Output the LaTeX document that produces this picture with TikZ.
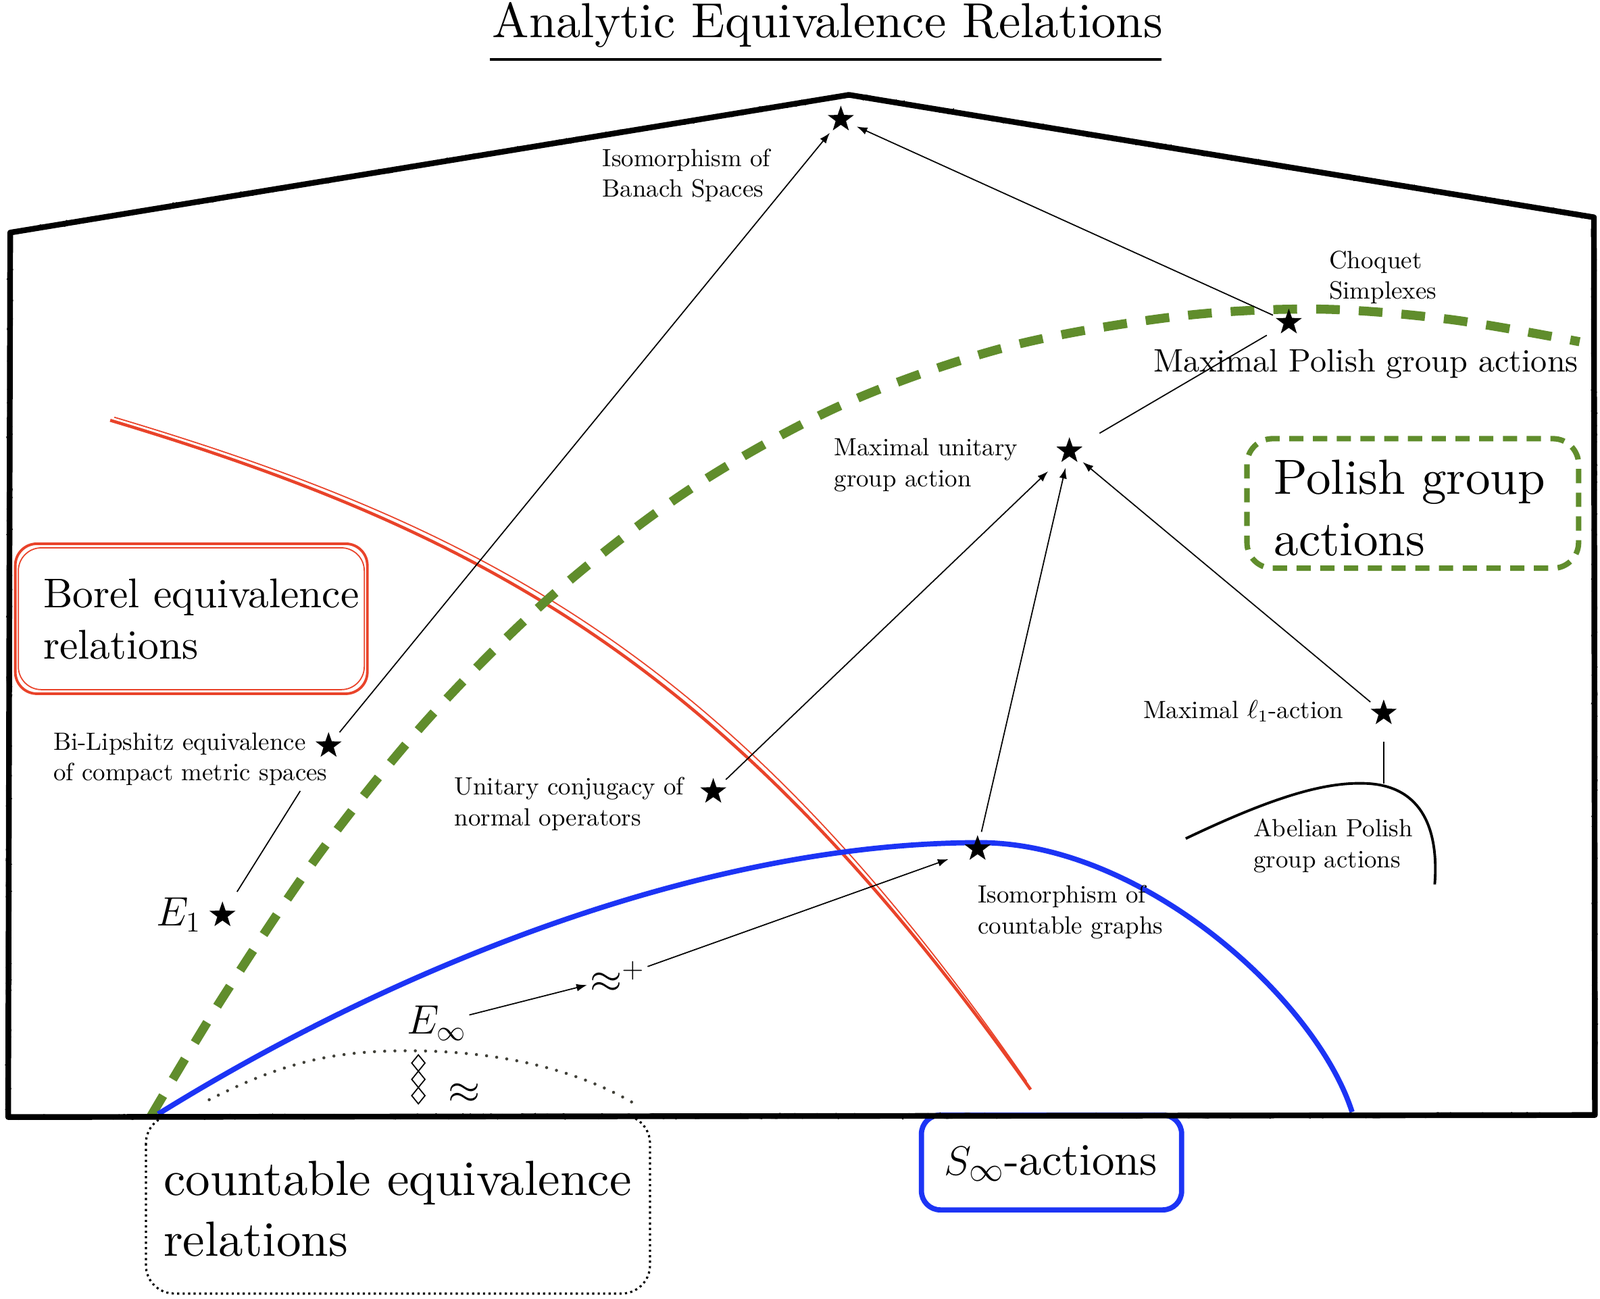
\documentclass[tikz,border=0pt]{standalone}
\usepackage{fontspec}
\setmainfont{lmroman10}[Extension=.otf, UprightFont=*-regular, ItalicFont=*-italic, BoldFont=*-bold, BoldItalicFont=*-bolditalic]
\usetikzlibrary{shapes.geometric,arrows.meta,decorations.pathmorphing}
\definecolor{grn}{RGB}{96,141,44}
\definecolor{rdd}{RGB}{233,67,42}
\definecolor{blu}{RGB}{28,52,245}
\definecolor{dgr}{RGB}{64,64,56}
\begin{document}
\begin{tikzpicture}[x=0.015102cm,y=-0.015102cm,
  small/.style={font=\fontsize{10.5}{12.9}\selectfont, align=left, inner sep=0pt, anchor=west},
  bigl/.style={font=\fontsize{20.8}{25.8}\selectfont, align=left, inner sep=0pt, anchor=west},
  starn/.style={star, star points=5, star point ratio=2.5, fill=black, draw=none, inner sep=0pt, minimum size=11.5pt},
  hub/.style={circle, inner sep=0pt, minimum size=0.5cm},
  arr/.style={line width=0.5pt, -{Latex[length=4.5pt,width=3.2pt]}},
  conn/.style={line width=0.5pt},
  house/.style={line width=2.4pt, line join=round},
  chalk/.style={line width=0.8pt, decorate, decoration={random steps, segment length=1.5pt, amplitude=0.9pt}},
  diapath/.style={line width=0.5pt, line join=miter},
]
\useasboundingbox (0,0) rectangle (1568,1273);

% title
\node[font=\fontsize{20.7}{24}\selectfont, anchor=base, inner sep=0pt] (title) at (811,37) {Analytic Equivalence Relations};
\draw[line width=1.1pt] ([shift={(-2,11)}]title.south west) -- ([shift={(-2,11)}]title.south east);

% boxes
\draw[rdd, line width=1.1pt, rounded corners=0.32cm] (15,533) rectangle (360,680);
\draw[rdd, line width=0.5pt, rounded corners=0.34cm] (18,537) rectangle (357,676);
\node[font=\fontsize{17.5}{21.5}\selectfont, align=left, inner sep=0pt, anchor=west] (borel) at (42,607) {Borel equivalence\\relations};

\draw[grn, line width=2.3pt, dash pattern=on 6pt off 4pt, rounded corners=0.38cm] (1222,430) rectangle (1547,557);
\node[bigl] (polish) at (1248,498) {Polish group\\actions};

\draw[black, line width=0.9pt, dash pattern=on 0.9pt off 1.4pt, rounded corners=0.42cm] (143,1093) rectangle (637,1268);
\node[bigl] (countl) at (160,1185) {countable equivalence\\relations};

\draw[blu, line width=2.2pt, rounded corners=0.28cm] (903,1093) rectangle (1158,1186);
\node[font=\fontsize{19}{22}\selectfont, inner sep=0pt] (sinf) at (1030,1140) {$S_\infty$-actions};

% curves
\draw[rdd, line width=1.3pt] (108,412) .. controls (488,526) and (720,660) .. (1010,1068);
\draw[rdd, line width=0.5pt] (112,409) .. controls (492,522) and (726,656) .. (1006,1060);
\draw[grn, line width=3.8pt, dash pattern=on 10pt off 8pt] plot[smooth, tension=0.55] coordinates {(148,1094) (220,975) (315,834) (422,702) (543,582) (677,479) (825,397) (985,340.6) (1151,310.5) (1290,303) (1420,313) (1548,335)};
\draw[blu, line width=2.2pt] (155,1092) .. controls (400,940) and (700,826) .. (960,826) .. controls (1120,826) and (1290,980) .. (1325,1090);
\draw[dgr, line width=1.3pt, line cap=round, dash pattern=on 0pt off 4.3pt] (205,1078) .. controls (280,1040) and (330,1030) .. (400,1030) .. controls (480,1030) and (560,1045) .. (622,1082);
\draw[line width=1.1pt] (1162,822) .. controls (1250,780) and (1300,766) .. (1340,768) .. controls (1395,771) and (1410,815) .. (1406,867);
\coordinate (abtop) at (1356,768);

% house outline
\draw[house] (8,1095) -- (10,228) -- (832,93) -- (1562,213) -- (1563,1093) -- cycle;
\draw[chalk] (8,1095) -- (10,228) -- (832,93) -- (1562,213) -- (1563,1093) -- cycle;

% diamonds and approx
\foreach \cy in {1042,1058,1074}{
  \draw[diapath] (410,\cy-8) -- (416.5,\cy) -- (410,\cy+8) -- (403.5,\cy) -- cycle;
}
\node[font=\fontsize{18}{20}\selectfont, inner sep=0pt] (approx) at (455,1072) {$\approx$};
\node[font=\fontsize{17}{20}\selectfont, inner sep=1pt] (einf) at (428,1003) {$E_\infty$};
\node[font=\fontsize{18}{20}\selectfont, inner sep=1pt] (apx) at (605,958) {$\approx^{+}$};
\node[font=\fontsize{17}{20}\selectfont, inner sep=0pt] (eonel) at (175,897) {$E_1$};

% labels
\node[small] (banl) at (590,172) {Isomorphism of\\Banach Spaces};
\node[small] (choql) at (1302,272) {Choquet\\Simplexes};
\node[font=\fontsize{13.7}{16}\selectfont, inner sep=0pt, anchor=west] (maxpol) at (1130,357) {Maximal Polish group actions};
\node[small] (unil) at (817,456) {Maximal unitary\\group action};
\node[small] (bill) at (52,744) {Bi-Lipshitz equivalence\\of compact metric spaces};
\node[small] (ucl) at (445,788) {Unitary conjugacy of\\normal operators};
\node[small] (lonel) at (1120,697) {Maximal $\ell_1$-action};
\node[small] (abl) at (1228,829) {Abelian Polish\\group actions};
\node[small] (isol) at (958,894) {Isomorphism of\\countable graphs};

% stars
\foreach \n/\x/\y in {ban/824/117, choq/1263/316, uni/1048/442, lone/1356/699, bil/322/731, uc/699/776, iso/958/832, eone/218/897}{
  \node[hub] (\n) at (\x,\y) {};
  \node[starn] (\n-s) at (\x,\y) {};
}

% connectors
\draw[arr] (bil) -- (ban);
\draw[arr] (choq) -- (ban);
\draw[conn, shorten <=0.26cm, shorten >=0.12cm] (uni) -- (choq);
\draw[arr, shorten >=0.18cm] (uc) -- (uni);
\draw[arr] (iso) -- (uni);
\draw[arr] (lone) -- (uni);
\draw[conn, shorten <=0.17cm] (lone) -- (abtop);
\draw[arr] (einf) -- (apx);
\draw[arr, shorten >=0.2cm] (apx) -- (iso);
\draw[conn, shorten >=0.15cm] ([shift={(-27,5)}]bill.south east) -- (eone);
\end{tikzpicture}
\end{document}
